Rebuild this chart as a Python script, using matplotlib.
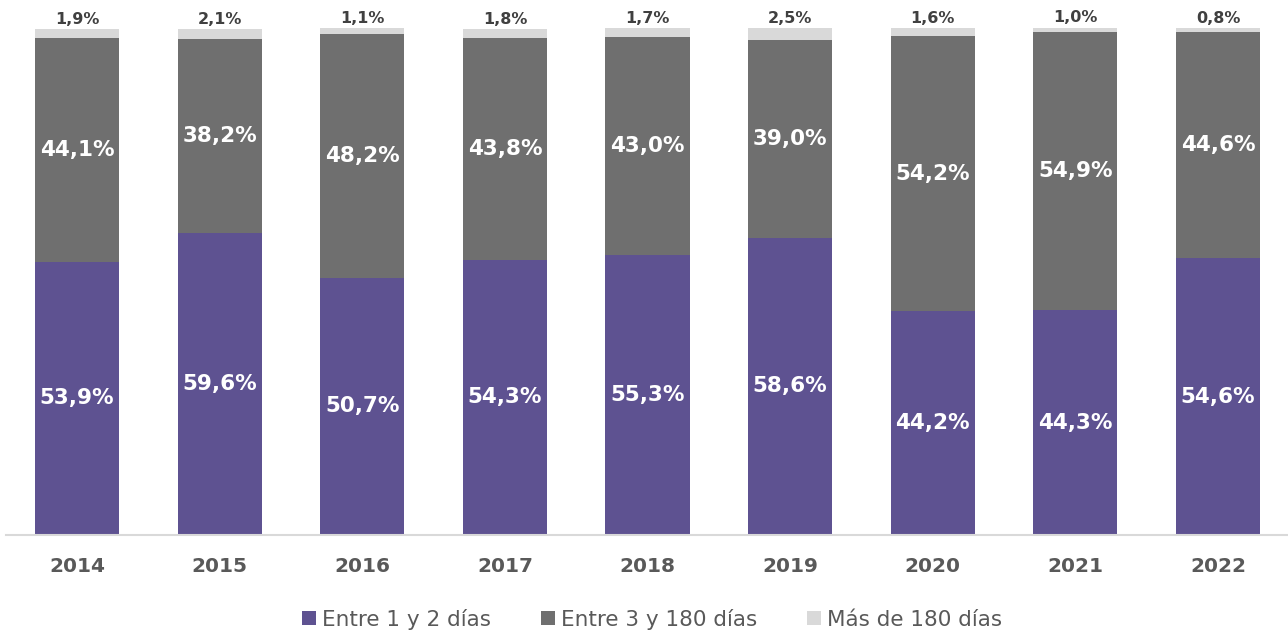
import matplotlib
matplotlib.use("Agg")
import matplotlib.pyplot as plt
import numpy as np

years = ["2014", "2015", "2016", "2017", "2018", "2019", "2020", "2021", "2022"]
entre_1_2 = [53.9, 59.6, 50.7, 54.3, 55.3, 58.6, 44.2, 44.3, 54.6]
entre_3_180 = [44.1, 38.2, 48.2, 43.8, 43.0, 39.0, 54.2, 54.9, 44.6]
mas_180 = [1.9, 2.1, 1.1, 1.8, 1.7, 2.5, 1.6, 1.0, 0.8]
series_names = ["Entre 1 y 2 días", "Entre 3 y 180 días", "Más de 180 días"]

colors = ["#5E5291", "#6F6F6F", "#D9D9D9"]
plt.rcParams['font.family'] = ['DejaVu Sans']

fig = plt.figure(figsize=(12.88, 6.32), dpi=100)
ax = fig.add_axes([5.7/1288, (632-535)/632, 1283.6/1288, 507/632])

x = np.arange(len(years))
w = 0.59
a = np.array(entre_1_2)
b = np.array(entre_3_180)
c = np.array(mas_180)
ax.bar(x, a, w, color=colors[0], label=series_names[0])
ax.bar(x, b, w, bottom=a, color=colors[1], label=series_names[1])
ax.bar(x, c, w, bottom=a+b, color=colors[2], label=series_names[2])

def fmt(v):
    return f"{v:.1f}%".replace(".", ",")

for i in range(len(years)):
    ax.text(x[i], a[i]/2, fmt(a[i]), ha='center', va='center', color='white',
            fontsize=15.5, fontweight='bold')
    ax.text(x[i], a[i] + b[i]/2, fmt(b[i]), ha='center', va='center', color='white',
            fontsize=15.5, fontweight='bold')
    ax.text(x[i], a[i] + b[i] + c[i] + 0.3, fmt(c[i]), ha='center', va='bottom', color='#404040',
            fontsize=11.5, fontweight='bold')

ax.set_xlim(-0.5, 8.5)
ax.set_ylim(0, 100)
ax.set_yticks([])
ax.set_xticks(x)
ax.set_xticklabels(years, fontsize=14.5, fontweight='bold', color='#595959')
ax.tick_params(axis='x', length=0, pad=16)
for s in ['top', 'right', 'left']:
    ax.spines[s].set_visible(False)
ax.spines['bottom'].set_color('#D9D9D9')
ax.spines['bottom'].set_linewidth(1.5)

leg = fig.legend(loc='center', bbox_to_anchor=(652/1288, 1 - 619/632), ncol=3, frameon=False,
                 fontsize=15.5, handlelength=0.65, handleheight=0.65, handletextpad=0.3,
                 columnspacing=2.3)
for t in leg.get_texts():
    t.set_color('#595959')

fig.savefig("out.png", dpi=100)
